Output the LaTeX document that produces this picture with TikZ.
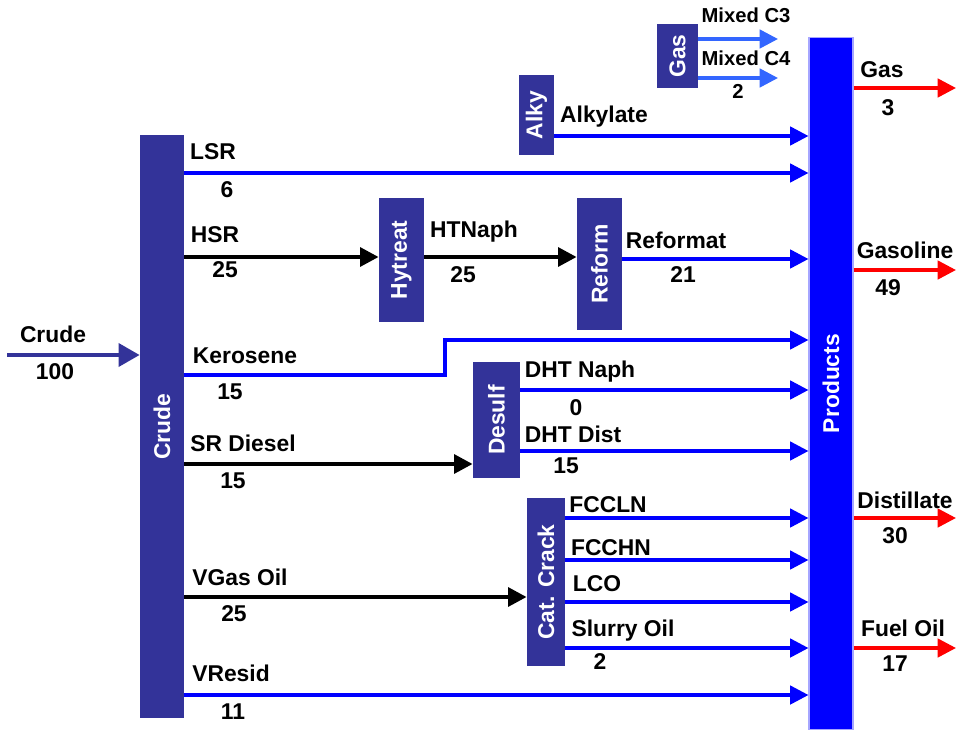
\documentclass[tikz,border=0pt]{standalone}
\usepackage{fontspec}
\setmainfont{Liberation Sans}
\usepackage{tikz}
\usetikzlibrary{arrows.meta}
\definecolor{Navy}{HTML}{333399}
\definecolor{Pure}{HTML}{0000FF}
\definecolor{Sky}{HTML}{3366FF}
\definecolor{Hot}{HTML}{FF0000}

\begin{document}
\begin{tikzpicture}[
  x=0.02cm, y=-0.02cm,
  font=\bfseries\fontsize{13}{15}\selectfont,
  unit/.style={fill=Navy, text=white, inner sep=1pt},
  pool/.style={unit, fill=Pure, draw=Pure!35, line width=.6pt},
  flow/.style={-{Triangle[length=10.5pt, width=10.5pt]}, line width=2pt, draw=Pure},
  feed/.style={flow, draw=black, line width=2.4pt},
  lpg/.style={flow, draw=Sky},
  sale/.style={flow, draw=Hot},
  crudein/.style={flow, draw=Navy, line width=2.4pt, -{Triangle[length=12pt, width=13pt]}},
  tag/.style={inner sep=0pt, text=black},
  small/.style={tag, font=\bfseries\fontsize{11.5}{13}\selectfont}
]
\useasboundingbox (0,0) rectangle (956,730);

% process units
\node[unit, minimum width=.88cm, minimum height=11.66cm] (crude) at (162,426.5) {\rotatebox{90}{Crude}};
\node[unit, minimum width=.82cm, minimum height=1.28cm] (gas) at (677.5,56) {\rotatebox{90}{Gas}};
\node[unit, minimum width=.70cm, minimum height=1.6cm] (alky) at (536.5,115) {\rotatebox{90}{Alky}};
\node[unit, minimum width=.9cm, minimum height=2.48cm] (hytreat) at (401.5,260) {\rotatebox{90}{Hytreat}};
\node[unit, minimum width=.9cm, minimum height=2.64cm] (reform) at (599.5,264) {\rotatebox{90}{Reform}};
\node[unit, minimum width=.94cm, minimum height=2.32cm] (desulf) at (496.5,420) {\rotatebox{90}{Desulf}};
\node[unit, minimum width=.76cm, minimum height=3.36cm] (fcc) at (546,582) {\rotatebox{90}{Cat. Crack}};
\node[pool, minimum width=.88cm, minimum height=13.86cm] (prod) at (831,383.5) {\rotatebox{90}{Products}};

% stream levels
\coordinate (feedin) at (7,355);
\coordinate (c3) at (778,39);
\coordinate (c4) at (778,78);
\coordinate (alk) at (0,136);
\coordinate (lsr) at (0,173);
\coordinate (hsr) at (0,257);
\coordinate (ref) at (0,259);
\coordinate (kero) at (0,375);
\coordinate (kerojog) at (445,340);
\coordinate (dhtn) at (0,390);
\coordinate (dhtd) at (0,451);
\coordinate (srd) at (0,464);
\coordinate (fccln) at (0,518);
\coordinate (fcchn) at (0,560);
\coordinate (vgo) at (0,597);
\coordinate (lco) at (0,602);
\coordinate (slurry) at (0,648);
\coordinate (vres) at (0,695);
\coordinate (gasout) at (956,88);
\coordinate (mogas) at (956,270);
\coordinate (dist) at (956,518);
\coordinate (fo) at (956,648);

% connectors
\draw[crudein] (feedin) -- (crude.west |- feedin);
\draw[flow] (crude.east |- lsr) -- (prod.west |- lsr);
\draw[feed] (crude.east |- hsr) -- (hytreat.west |- hsr);
\draw[feed] (hytreat.east |- hsr) -- (reform.west |- hsr);
\draw[flow] (reform.east |- ref) -- (prod.west |- ref);
\draw[flow] (alky.east |- alk) -- (prod.west |- alk);
\draw[lpg] (gas.east |- c3) -- (c3);
\draw[lpg] (gas.east |- c4) -- (c4);
\draw[flow] (crude.east |- kero) -| (kerojog) -- (prod.west |- kerojog);
\draw[feed] (crude.east |- srd) -- (desulf.west |- srd);
\draw[flow] (desulf.east |- dhtn) -- (prod.west |- dhtn);
\draw[flow] (desulf.east |- dhtd) -- (prod.west |- dhtd);
\draw[feed] (crude.east |- vgo) -- (fcc.west |- vgo);
\draw[flow] (fcc.east |- fccln) -- (prod.west |- fccln);
\draw[flow] (fcc.east |- fcchn) -- (prod.west |- fcchn);
\draw[flow] (fcc.east |- lco) -- (prod.west |- lco);
\draw[flow] (fcc.east |- slurry) -- (prod.west |- slurry);
\draw[flow] (crude.east |- vres) -- (prod.west |- vres);
\draw[sale] (prod.east |- gasout) -- (gasout);
\draw[sale] (prod.east |- mogas) -- (mogas);
\draw[sale] (prod.east |- dist) -- (dist);
\draw[sale] (prod.east |- fo) -- (fo);

% stream names and rates
\node[tag] (crudename) at (53,334) {Crude};
\node[tag] (crudeval) at (55,372) {100};
\node[tag] (lsrname) at (213,152) {LSR};
\node[tag] (lsrval) at (227,190) {6};
\node[tag] (hsrname) at (215,235) {HSR};
\node[tag] (hsrval) at (225,270) {25};
\node[tag] (keroname) at (245,356) {Kerosene};
\node[tag] (keroval) at (230,392) {15};
\node[tag] (srdname) at (243,443) {SR Diesel};
\node[tag] (srdval) at (233,481) {15};
\node[tag] (vgoname) at (240,577) {VGas Oil};
\node[tag] (vgoval) at (234,614) {25};
\node[tag] (vresname) at (231,673) {VResid};
\node[tag] (vresval) at (233,712) {11};
\node[tag] (htname) at (474,232) {HTNaph};
\node[tag] (htval) at (463,275) {25};
\node[tag] (refname) at (676,240) {Reformat};
\node[tag] (refval) at (683,275) {21};
\node[tag] (alkname) at (604,117) {Alkylate};
\node[small] (c3name) at (746,15) {Mixed C3};
\node[small] (c4name) at (746,58) {Mixed C4};
\node[small] (c4val) at (738,91) {2};
\node[tag] (dhtnname) at (580,372) {DHT Naph};
\node[tag] (dhtnval) at (576,408) {0};
\node[tag] (dhtdname) at (573,434) {DHT Dist};
\node[tag] (dhtdval) at (566,466) {15};
\node[tag] (fcclnname) at (608,505) {FCCLN};
\node[tag] (fcchnname) at (611,548) {FCCHN};
\node[tag] (lconame) at (597,584) {LCO};
\node[tag] (slurryname) at (623,631) {Slurry Oil};
\node[tag] (slurryval) at (600,662) {2};
\node[tag] (gasname) at (882,70) {Gas};
\node[tag] (gasval) at (888,108) {3};
\node[tag] (mogasname) at (905,250) {Gasoline};
\node[tag] (mogasval) at (888,288) {49};
\node[tag] (distname) at (905,500) {Distillate};
\node[tag] (distval) at (895,536) {30};
\node[tag] (foname) at (903,628) {Fuel Oil};
\node[tag] (foval) at (895,664) {17};
\end{tikzpicture}
\end{document}
